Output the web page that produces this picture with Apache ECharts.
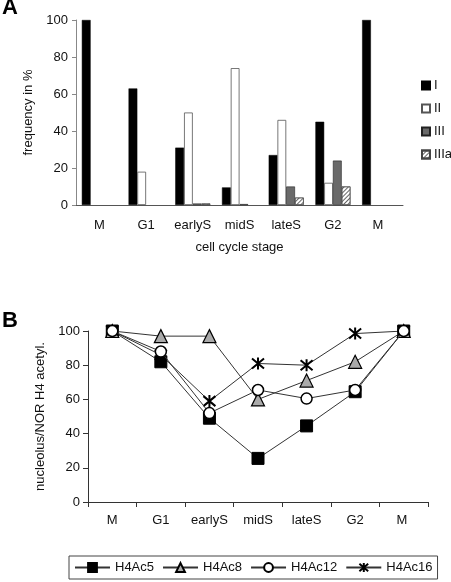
<!DOCTYPE html>
<html>
<head>
<meta charset="utf-8">
<script src="https://cdn.jsdelivr.net/npm/echarts@6/dist/echarts.min.js"></script>
<style>html,body{margin:0;padding:0;background:#fff}#c{width:451px;height:582px}</style>
</head>
<body>
<div id="c"></div>
<script>
var stages = ['M', 'G1', 'earlyS', 'midS', 'lateS', 'G2', 'M '];
var yTicksA = [0, 20, 40, 60, 80, 100];
// Panel A: frequency in % (null = no bar)
var typeI = [100, 63, 31, 9.5, 27, 45, 100];
var typeII = [null, 18, 50, 74, 46, 12, null];
var typeIII = [null, null, 0.8, 0.5, 10, 24, null];
var typeIIIa = [null, null, 0.8, null, 4, 10, null];
// Panel B: nucleolus/NOR H4 acetylation
var h4ac5 = [100, 82, 49, 25.5, 44.5, 64.5, 100];
var h4ac8 = [100, 97, 97, 60, 71, 82, 100];
var h4ac12 = [100, 88, 52, 65.5, 60.5, 65.5, 100];
var h4ac16 = [100, 86, 59, 81, 80, 98.5, 100];

var FONT = 'Liberation Sans, Arial, sans-serif';
var chart = echarts.init(document.getElementById('c'), null, {renderer: 'canvas'});
var asterisk = 'path://M0 0L10 10M10 0L0 10M5 -1L5 11';
var txt = {color: '#111', fontFamily: FONT, fontSize: 13};

function barSeries(name, data, style) {
  return {
    name: name, type: 'bar', xAxisIndex: 0, yAxisIndex: 0, data: data,
    barGap: '0%', barCategoryGap: '25%', itemStyle: style
  };
}
function lineSeries(name, data, symbol, size, itemStyle, z) {
  return {
    name: name, type: 'line', xAxisIndex: 1, yAxisIndex: 1, data: data,
    symbol: symbol, symbolSize: size, z: z,
    lineStyle: {color: '#333', width: 1},
    itemStyle: itemStyle
  };
}

var option = {
  animation: false,
  backgroundColor: '#fff',
  textStyle: {fontFamily: FONT},
  graphic: [
    {type: 'text', left: 2, top: -3, style: {text: 'A', font: 'bold 22px ' + FONT, fill: '#000'}},
    {type: 'text', left: 2, top: 310, style: {text: 'B', font: 'bold 22px ' + FONT, fill: '#000'}}
  ],
  grid: [
    {left: 76, right: 48, top: 20, height: 185},
    {left: 88, right: 23, top: 331, height: 171}
  ],
  xAxis: [
    {
      type: 'category', gridIndex: 0, data: stages,
      axisLine: {lineStyle: {color: '#555', width: 1}},
      axisTick: {show: false},
      axisLabel: Object.assign({margin: 14, interval: 0}, txt),
      name: 'cell cycle stage', nameLocation: 'middle', nameGap: 36,
      nameTextStyle: txt
    },
    {
      type: 'category', gridIndex: 1, data: stages,
      axisLine: {lineStyle: {color: '#333', width: 1}},
      axisTick: {show: true, length: 5, interval: 0, lineStyle: {color: '#333'}},
      axisLabel: Object.assign({margin: 12, interval: 0}, txt)
    }
  ],
  yAxis: [
    {
      type: 'value', gridIndex: 0, min: 0, max: 100, interval: 20,
      axisLine: {show: true, lineStyle: {color: '#888'}},
      axisTick: {show: true, length: 4, lineStyle: {color: '#888'}},
      splitLine: {show: false},
      axisLabel: Object.assign({margin: 8}, txt),
      name: 'frequency in %', nameLocation: 'middle', nameGap: 38,
      nameTextStyle: txt
    },
    {
      type: 'value', gridIndex: 1, min: 0, max: 100, interval: 20,
      axisLine: {show: true, lineStyle: {color: '#333'}},
      axisTick: {show: true, length: 5, lineStyle: {color: '#333'}},
      splitLine: {show: false},
      axisLabel: Object.assign({margin: 8}, txt),
      name: 'nucleolus/NOR H4 acetyl.', nameLocation: 'middle', nameGap: 36,
      nameTextStyle: txt
    }
  ],
  legend: [
    {
      data: ['I', 'II', 'III', 'IIIa'],
      orient: 'vertical', left: 416, top: 74, itemGap: 10,
      itemWidth: 8, itemHeight: 8, icon: 'rect',
      textStyle: Object.assign({padding: [0, 0, 0, -1]}, txt)
    },
    {
      data: ['H4Ac5', 'H4Ac8', 'H4Ac12', 'H4Ac16'],
      orient: 'horizontal', left: 69, top: 556,
      itemGap: 8, itemWidth: 35, itemHeight: 11,
      borderColor: '#444', borderWidth: 1, padding: [5, 5, 5, 5],
      textStyle: txt
    }
  ],
  series: [
    barSeries('I', typeI, {color: '#000', borderColor: '#000', borderWidth: 0.5}),
    barSeries('II', typeII, {color: '#fff', borderColor: '#555', borderWidth: 0.8}),
    barSeries('III', typeIII, {color: '#6a6a6a', borderColor: '#222', borderWidth: 0.6}),
    barSeries('IIIa', typeIIIa, {color: '#fff', borderColor: '#444', borderWidth: 0.6,
      decal: {symbol: 'rect', color: '#666', dashArrayX: [1, 0], dashArrayY: [1, 2], rotation: -Math.PI / 4, symbolSize: 1}}),
    lineSeries('H4Ac16', h4ac16, asterisk, 12, {color: '#000', borderColor: '#000', borderWidth: 2}, 2),
    lineSeries('H4Ac5', h4ac5, 'rect', 12, {color: '#000', borderColor: '#000', borderWidth: 1}, 3),
    lineSeries('H4Ac8', h4ac8, 'triangle', 13, {color: '#aaa', borderColor: '#000', borderWidth: 1.2}, 4),
    lineSeries('H4Ac12', h4ac12, 'circle', 11, {color: '#fff', borderColor: '#000', borderWidth: 1.5}, 5)
  ]
};
chart.setOption(option);
</script>
</body>
</html>
